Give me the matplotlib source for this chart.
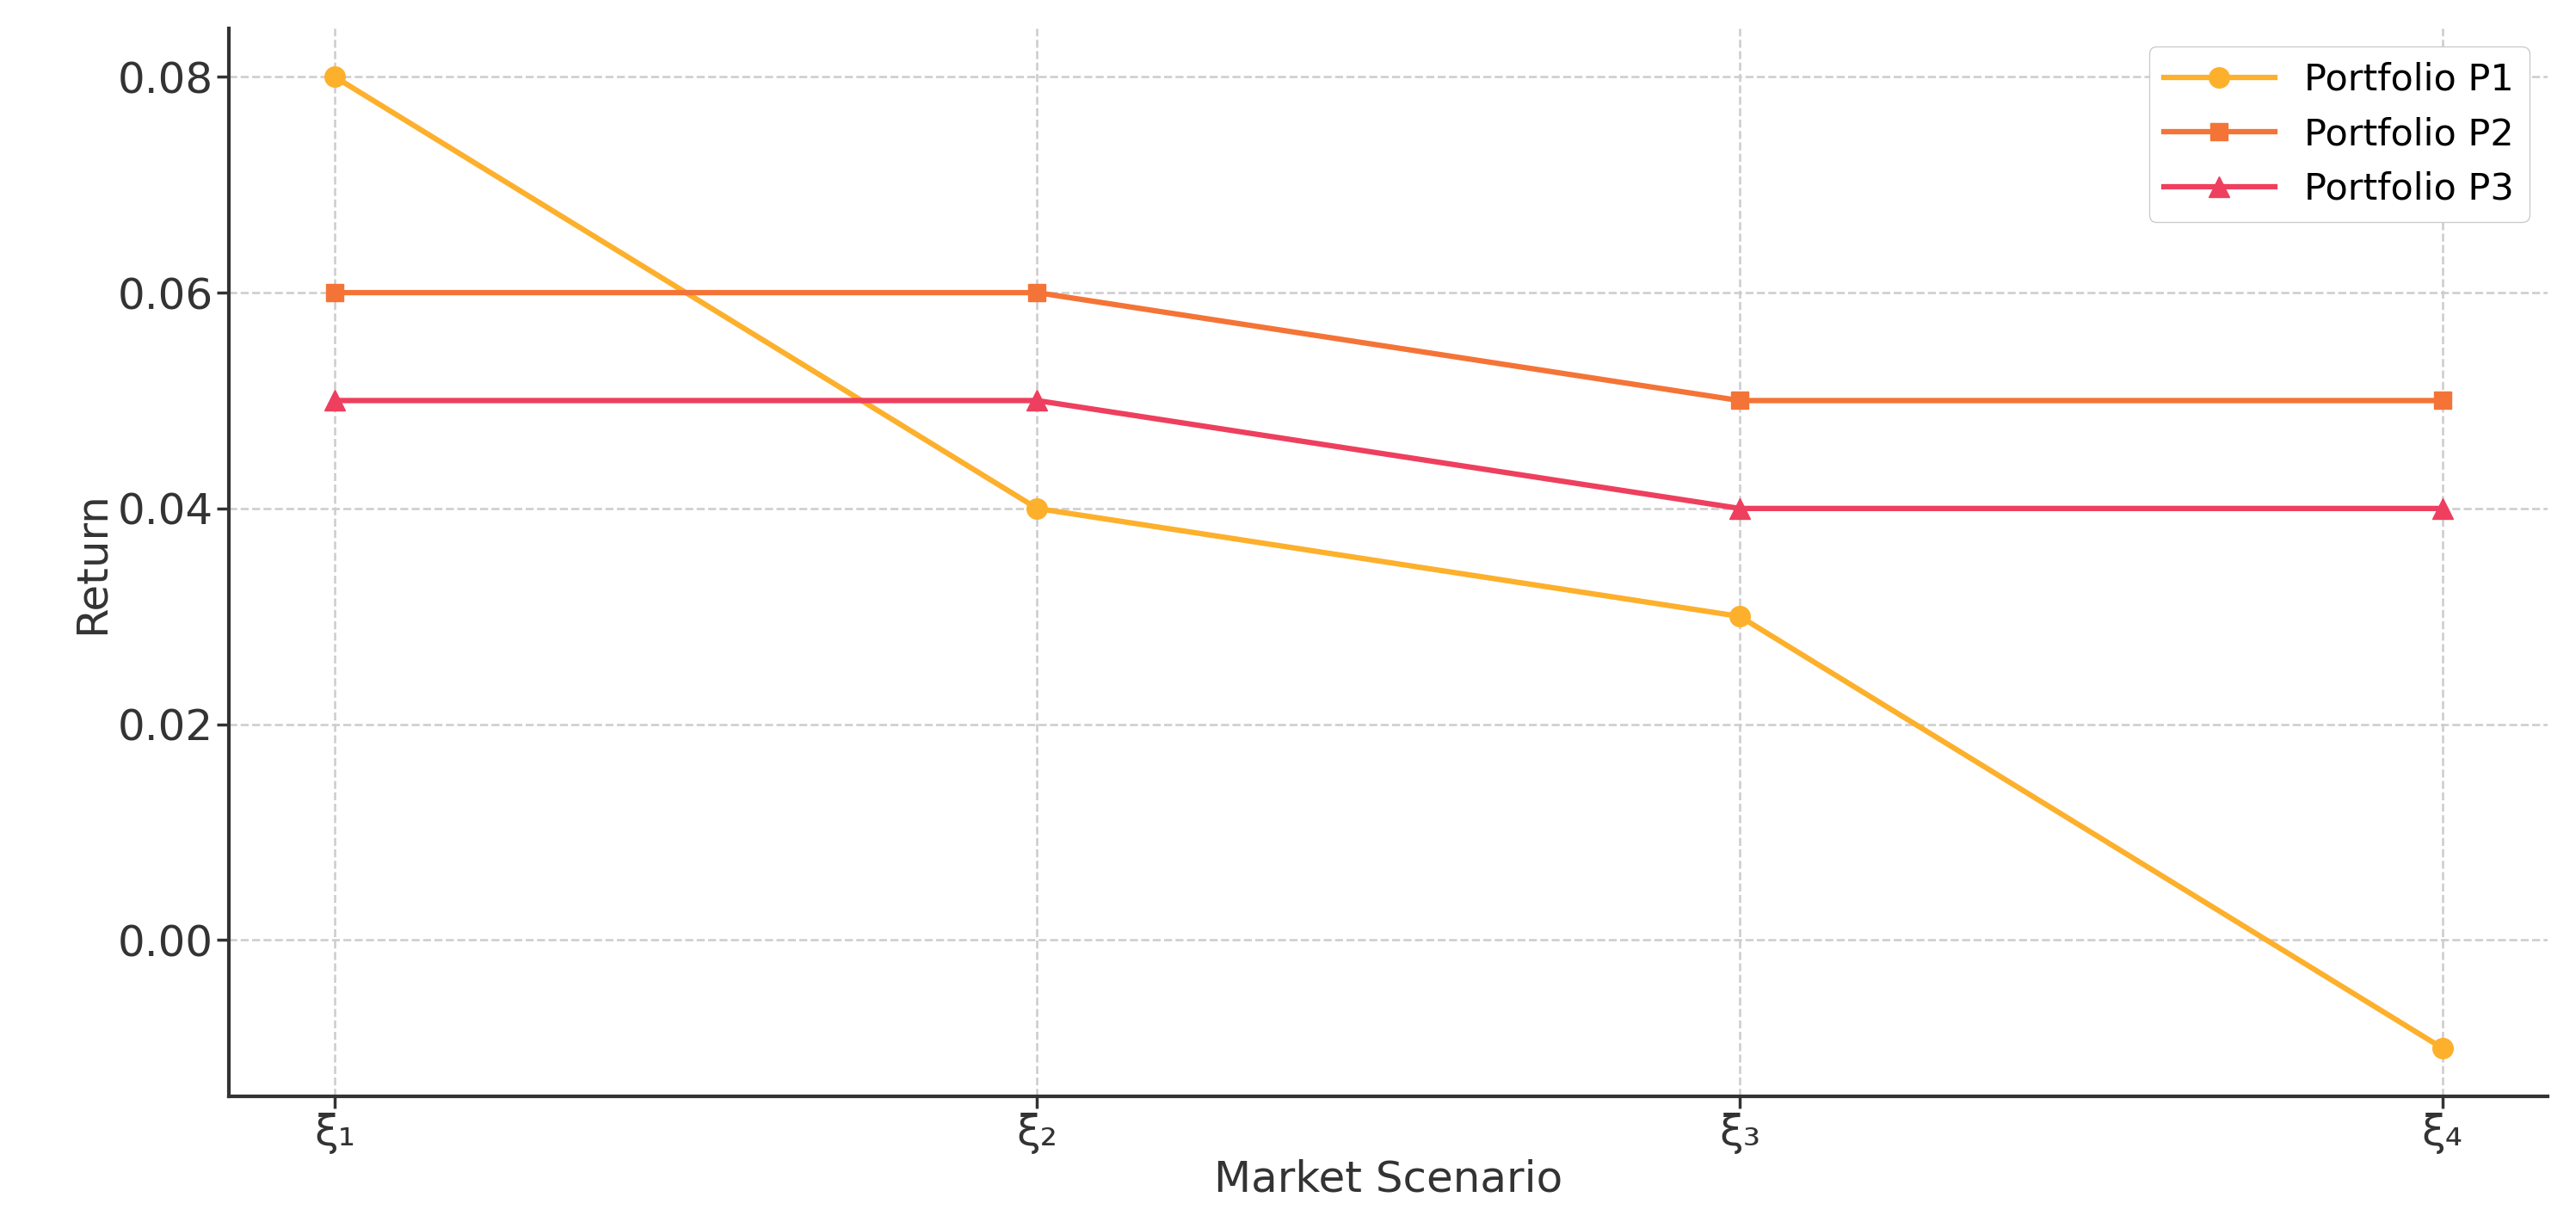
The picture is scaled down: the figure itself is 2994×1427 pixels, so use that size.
import matplotlib
matplotlib.use("Agg")
import matplotlib.pyplot as plt

scenarios = ["ξ₁", "ξ₂", "ξ₃", "ξ₄"]
p1 = [0.08, 0.04, 0.03, -0.01]
p2 = [0.06, 0.06, 0.05, 0.05]
p3 = [0.05, 0.05, 0.04, 0.04]

plt.rcParams['font.family'] = ['DejaVu Sans']
fig = plt.figure(figsize=(29.94, 14.27), dpi=100)
ax = fig.add_axes([0.089, 0.107, 0.9, 0.87])
x = range(len(scenarios))
ax.plot(x, p1, marker='o', color='#FDB02C', lw=4.5, ms=17, label='Portfolio P1')
ax.plot(x, p2, marker='s', color='#F47437', lw=4.5, ms=15, label='Portfolio P2')
ax.plot(x, p3, marker='^', color='#EE3F5E', lw=4.5, ms=17, label='Portfolio P3')
ax.set_xticks(list(x))
ax.set_xticklabels(scenarios)
ax.set_yticks([0.0, 0.02, 0.04, 0.06, 0.08])
ax.set_yticklabels(["0.00", "0.02", "0.04", "0.06", "0.08"])
ax.tick_params(labelsize=36, width=2.5, length=10, colors='#333333')
ax.set_xlabel("Market Scenario", fontsize=36, color='#333333')
ax.set_ylabel("Return", fontsize=36, color='#333333')
ax.grid(True, ls='--', color='#cccccc', lw=1.8)
for s in ['top', 'right']:
    ax.spines[s].set_visible(False)
for s in ['left', 'bottom']:
    ax.spines[s].set_linewidth(3)
    ax.spines[s].set_color('#333333')
ax.set_xlim(-0.15, 3.15)
ax.set_ylim(-0.0145, 0.0845)
ax.legend(loc='upper right', fontsize=31, framealpha=1, edgecolor='#cccccc', handlelength=3)
fig.savefig("out.png", dpi=100)
